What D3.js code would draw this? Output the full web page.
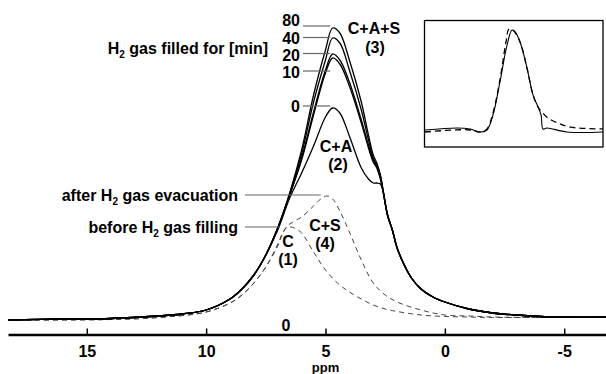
<!DOCTYPE html>
<html>
<head>
<meta charset="utf-8">
<script src="https://cdn.jsdelivr.net/npm/d3@7"></script>
<style>
  body { margin: 0; background: #fff; }
  text { font-family: "Liberation Sans", Arial, sans-serif; font-weight: bold; }
</style>
</head>
<body>
<div id="canvas"></div>
<script>
// DATA (heights above baseline)
const ppm = [18.3, 16, 14, 12, 11, 10, 9, 8.5, 8, 7.5, 7, 6.5, 6, 5.5, 5, 4.7, 4.4, 4, 3.5, 3.2, 3, 2.85, 2.7, 2.6, 2.4, 2.2, 2, 1.7, 1.4, 1, 0.5, 0, -1, -2, -3, -4, -5, -6.75];
const min80 = [0, 1, 1.5, 4, 6, 10, 21, 31, 45, 65, 92, 127, 170, 225, 270, 292, 287, 260, 218, 185, 165, 157, 145, 132, 105, 90, 72, 55, 42, 31, 23, 18, 11, 7, 5, 3.5, 3, 3];
const min40 = [0, 1, 1.5, 4, 6, 10, 21, 31, 45, 65, 92, 126, 166, 218, 260, 282, 277, 250, 210, 180, 162, 155, 144, 131, 105, 90, 72, 55, 42, 31, 23, 18, 11, 7, 5, 3.5, 3, 3];
const min20 = [0, 1, 1.5, 4, 6, 10, 21, 31, 45, 65, 92, 125, 162, 208, 250, 266, 260, 238, 200, 175, 160, 153, 142, 130, 105, 90, 72, 55, 42, 31, 23, 18, 11, 7, 5, 3.5, 3, 3];
const min10 = [0, 1, 1.5, 4, 6, 10, 21, 31, 45, 65, 92, 125, 160, 205, 247, 262, 256, 234, 197, 172, 158, 152, 141, 130, 105, 90, 72, 55, 42, 31, 23, 18, 11, 7, 5, 3.5, 3, 3];
const min0 = [0, 1, 1.5, 4, 6, 10, 21, 31, 45, 65, 90, 122, 147, 174, 203, 212, 207, 184, 152, 141, 137, 137, 136, 130, 104, 90, 72, 55, 42, 31, 23, 18, 11, 7, 5, 3.5, 3, 3];

const ppmC = [18.3, 14, 12, 10, 9, 8.5, 8, 7.5, 7, 6.8, 6.6, 6.3, 6, 5.5, 5, 4.5, 4, 3.5, 3, 2.5, 2, 1, 0, -1, -2, -4, -6.75];
const beforeFill = [0, 0.5, 2.5, 8, 17, 25, 37, 53, 74, 86, 93, 92, 87, 68, 50, 37, 28, 21, 15, 11, 8.5, 5, 3.5, 3, 2.5, 2.5, 2.5];
const ppmCS = [18.3, 14, 12, 10, 9, 8.5, 8, 7.5, 7, 6.8, 6.6, 6.3, 6, 5.5, 5.2, 4.94, 4.7, 4.4, 4, 3.5, 3, 2.5, 2, 1, 0, -1, -2, -4, -6.75];
const afterEvac = [0, 0.5, 2.5, 8, 17, 25, 37, 53, 76, 87, 94, 99, 103, 114, 121, 124, 121, 109, 88, 60, 37, 25, 18, 10, 5, 4, 3, 2.5, 2.5];

const minLabels = ["80", "40", "20", "10", "0"];
const xTicks = [15, 10, 5, 0, -5];

// inset (positions in % of the box)
const insetX = [0, 18, 25.3, 30.9, 34.8, 38.2, 42.1, 46.1, 48.9, 50.6, 53.4, 57.3, 60.7, 63.5, 65.2, 66.3, 68.5, 79.8, 100];
const insetSolid = [13.4, 15, 14.2, 11.8, 13.4, 25.2, 51.2, 80.3, 92.1, 90.6, 82.7, 62.2, 40.9, 31.5, 25.2, 14.2, 15, 11.8, 11.8];
const insetDashX = [0, 15.7, 25.3, 30.9, 34.8, 38.2, 42.1, 45.5, 47.2, 49.4, 53.4, 57.3, 60.7, 63.5, 65.7, 69.1, 74.7, 81.5, 100];
const insetDash = [11.8, 13.4, 13.4, 11.8, 14.2, 26.8, 52.8, 82.7, 92.9, 92.1, 82.7, 62.2, 40.9, 31.5, 27.6, 22.8, 18.9, 15.7, 14.2];

function drawChart() {
  // DIMENSIONS
  const width = 606;
  const height = 374;

  const canvas = d3.select("#canvas")
    .append("svg")
    .attr("width", width)
    .attr("height", height);

  // SCALES
  const x = d3.scaleLinear().domain([18.3, -6.75]).range([8, 606]);
  const y = d3.scaleLinear().domain([0, 300]).range([320, 20]);

  const line = d3.line()
    .x(d => x(d[0]))
    .y(d => y(d[1]))
    .curve(d3.curveCatmullRom.alpha(0.5));

  // DASHED (C and C+S)
  [[ppmC, beforeFill], [ppmCS, afterEvac]].forEach(([xs, ys]) => {
    canvas.append("path")
      .attr("d", line(xs.map((p, i) => [p, ys[i]])))
      .attr("fill", "none")
      .attr("stroke", "#444")
      .attr("stroke-width", 1)
      .attr("stroke-dasharray", "5,4");
  });

  // SOLID SPECTRA
  [min0, min10, min20, min40, min80].forEach(s => {
    canvas.append("path")
      .attr("d", line(ppm.map((p, i) => [p, s[i]])))
      .attr("fill", "none")
      .attr("stroke", "#000")
      .attr("stroke-width", 1.3);
  });

  // AXIS
  const axis = canvas.append("g")
    .attr("transform", "translate(0,334.5)")
    .call(d3.axisBottom(x).tickValues(xTicks).tickFormat(d => String(d))
      .tickSize(-6).tickSizeOuter(0).tickPadding(11));
  axis.select(".domain").attr("stroke-width", 2.5);
  axis.selectAll(".tick line").attr("stroke-width", 1.5);
  axis.selectAll("text")
    .attr("font-size", 16)
    .attr("font-family", "Liberation Sans, Arial, sans-serif")
    .attr("font-weight", "bold");

  canvas.append("text").attr("x", x(5)).attr("y", 372)
    .attr("text-anchor", "middle").attr("font-size", 13).text("ppm");
  canvas.append("text").attr("x", 286).attr("y", 331)
    .attr("text-anchor", "middle").attr("font-size", 16).text("0");

  // MINUTE LABELS
  const labelY = [26, 44, 61, 78, 112];
  const leaderY = [26, 37.5, 53.5, 71, 106];
  minLabels.forEach((t, i) => {
    canvas.append("text").attr("x", 300).attr("y", labelY[i])
      .attr("text-anchor", "end").attr("font-size", 16).text(t);
    canvas.append("line")
      .attr("x1", 303).attr("x2", x(4.8))
      .attr("y1", leaderY[i]).attr("y2", leaderY[i])
      .attr("stroke", "#666").attr("stroke-width", 1.2);
  });

  function h2Text(xp, yp, before, after) {
    const t = canvas.append("text").attr("x", xp).attr("y", yp)
      .attr("text-anchor", "end").attr("font-size", 16);
    t.append("tspan").text(before + "H");
    t.append("tspan").attr("font-size", 10).attr("dy", 4).text("2");
    t.append("tspan").attr("dy", -4).text(after);
  }
  h2Text(268, 54, "", " gas filled for [min]");
  h2Text(238, 201, "after ", " gas evacuation");
  h2Text(238, 233, "before ", " gas filling");

  canvas.append("line").attr("x1", 245).attr("x2", x(5.2)).attr("y1", 195).attr("y2", 195)
    .attr("stroke", "#666").attr("stroke-width", 1.2);
  canvas.append("line").attr("x1", 245).attr("x2", x(6.9)).attr("y1", 227).attr("y2", 227)
    .attr("stroke", "#666").attr("stroke-width", 1.2);

  // PEAK LABELS
  const peakLabels = [
    ["C+A+S", 374, 34], ["(3)", 375, 53],
    ["C+A", 336, 152], ["(2)", 338, 170],
    ["C", 288, 247], ["(1)", 288, 265],
    ["C+S", 325, 231], ["(4)", 325, 249]
  ];
  peakLabels.forEach(([t, px, py]) => {
    canvas.append("text").attr("x", px).attr("y", py)
      .attr("text-anchor", "middle").attr("font-size", 16).text(t);
  });

  // INSET
  const ix = d3.scaleLinear().domain([0, 100]).range([425, 603]);
  const iy = d3.scaleLinear().domain([0, 100]).range([147, 20]);
  const iline = d3.line().x(d => ix(d[0])).y(d => iy(d[1])).curve(d3.curveCatmullRom.alpha(0.5));

  canvas.append("rect")
    .attr("x", 424.5).attr("y", 20.5).attr("width", 178.5).attr("height", 126.5)
    .attr("fill", "none").attr("stroke", "#000").attr("stroke-width", 1.3);

  canvas.append("path")
    .attr("d", iline(insetDashX.map((v, i) => [v, insetDash[i]])))
    .attr("fill", "none").attr("stroke", "#000").attr("stroke-width", 1.3)
    .attr("stroke-dasharray", "6,4");
  canvas.append("path")
    .attr("d", iline(insetX.map((v, i) => [v, insetSolid[i]])))
    .attr("fill", "none").attr("stroke", "#000").attr("stroke-width", 1.1);
}

drawChart();
</script>
</body>
</html>
